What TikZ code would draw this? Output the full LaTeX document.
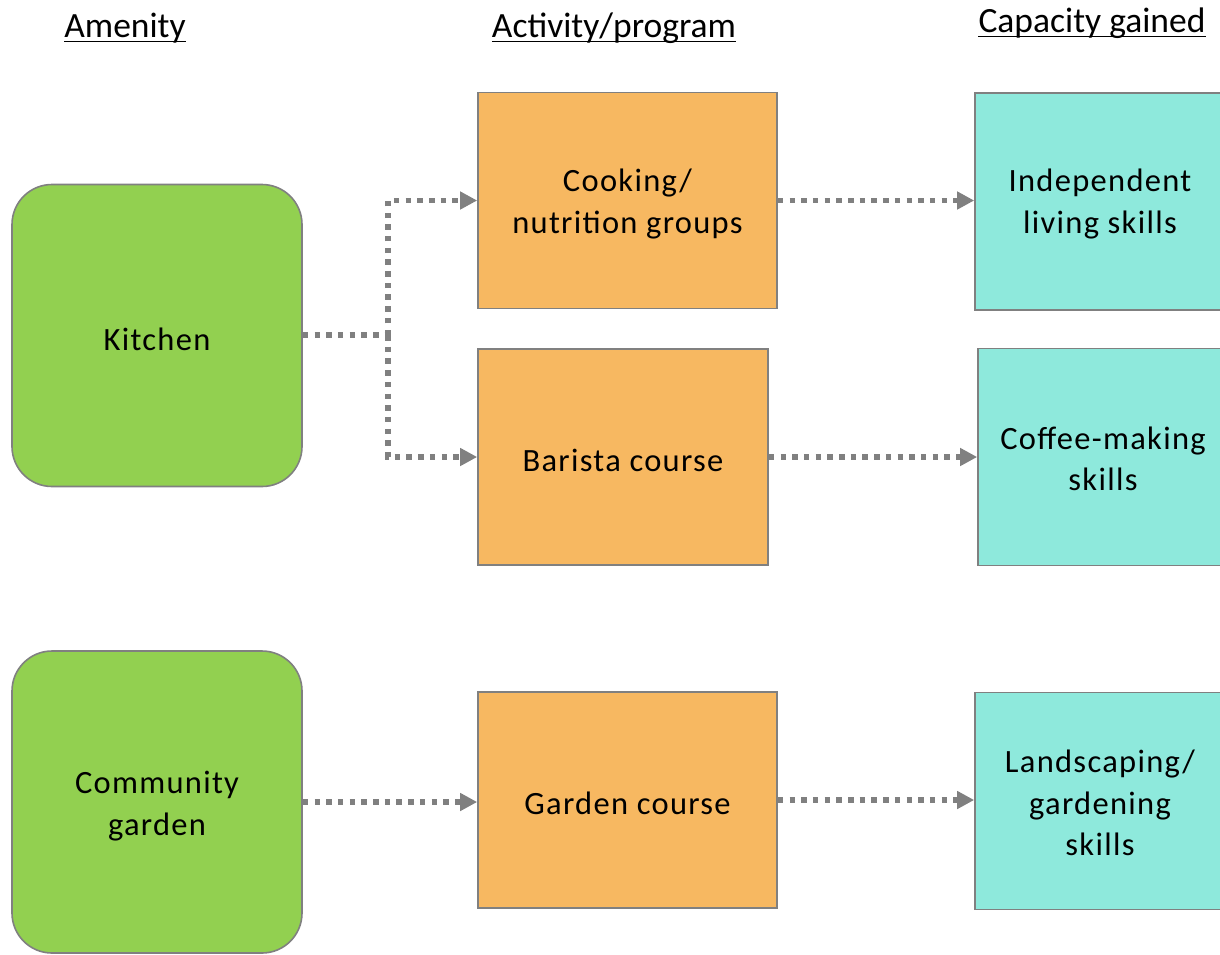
\documentclass[tikz,border=0pt]{standalone}
\usepackage{fontspec}
\setmainfont{Carlito}
\usetikzlibrary{arrows.meta}
\definecolor{amen}{HTML}{92D050}
\definecolor{act}{HTML}{F7B861}
\definecolor{cap}{HTML}{8EE9DC}
\definecolor{edge}{HTML}{808080}
\tikzset{
  box/.style={draw=edge, line width=1.6pt, inner sep=0pt, align=center,
    font=\fontsize{32.5}{41.5}\selectfont\addfontfeature{LetterSpace=4}},
  amenbox/.style={box, fill=amen, rounded corners=40pt, minimum width=290pt, minimum height=302pt},
  actbox/.style={box, fill=act, minimum height=216pt},
  capbox/.style={box, fill=cap, minimum width=250pt, minimum height=217pt},
  hdr/.style={anchor=base, inner sep=0pt, font=\fontsize{35.5}{40}\selectfont},
  ul/.style={line width=1.7pt, black},
  link/.style={draw=edge, line width=5.2pt, dash pattern=on 5.5pt off 6.2pt,
    -{Triangle[length=17pt,width=17pt]}},
  linkplain/.style={draw=edge, line width=5.2pt, dash pattern=on 5.5pt off 6.2pt}
}
\begin{document}
\begin{tikzpicture}[x=1pt,y=-1pt]
\useasboundingbox (0,0) rectangle (1220,954);
\clip (0,0) rectangle (1220,954);
% headers
\node[hdr] (h1) at (125,37.5) {Amenity};
\node[hdr] (h2) at (614,37.5) {Activity/program};
\node[hdr] (h3) at (1092,32.5) {Capacity gained};
\foreach \h in {h1,h2,h3}{
  \draw[ul] ([yshift=-4pt]\h.base west) -- ([yshift=-4pt]\h.base east);
}
% amenities
\node[amenbox] (kit) at (157,335.5) {};
\node[amenbox] (cg) at (157,802) {};
% activities
\node[actbox, minimum width=299pt] (cook) at (627.5,200.5) {};
\node[actbox, minimum width=290pt] (bar) at (623,457) {};
\node[actbox, minimum width=299pt] (gard) at (627.5,800) {};
% capacities
\node[capbox] (ind) at (1100,201.5) {};
\node[capbox] (cof) at (1103,457) {};
\node[capbox] (land) at (1100,801) {};
% labels
\node[box, draw=none] (kitt) at (157,339) {Kitchen};
\node[box, draw=none] (cgt) at (157,806) {Community\\garden};
\node[box, draw=none] (cookt) at (627.5,204) {Cooking/\\nutrition groups};
\node[box, draw=none] (bart) at (623,460) {Barista course};
\node[box, draw=none] (gardt) at (627.5,803) {Garden course};
\node[box, draw=none] (indt) at (1100,204) {Independent\\living skills};
\node[box, draw=none] (coft) at (1103,459) {Coffee-making\\skills};
\node[box, draw=none] (landt) at (1100,803) {Landscaping/\\gardening\\skills};
% connectors
\coordinate (split) at (388,335);
\draw[linkplain] (kit.east |- split) -- (split);
\draw[link] (split) |- (cook.west);
\draw[link] (split) |- (bar.west);
\draw[link] (cook.east) -- (ind.west |- cook.east);
\draw[link] (bar.east) -- (cof.west |- bar.east);
\draw[link] (cg.east) -- (gard.west |- cg.east);
\draw[link] (gard.east) -- (land.west |- gard.east);
\end{tikzpicture}
\end{document}
